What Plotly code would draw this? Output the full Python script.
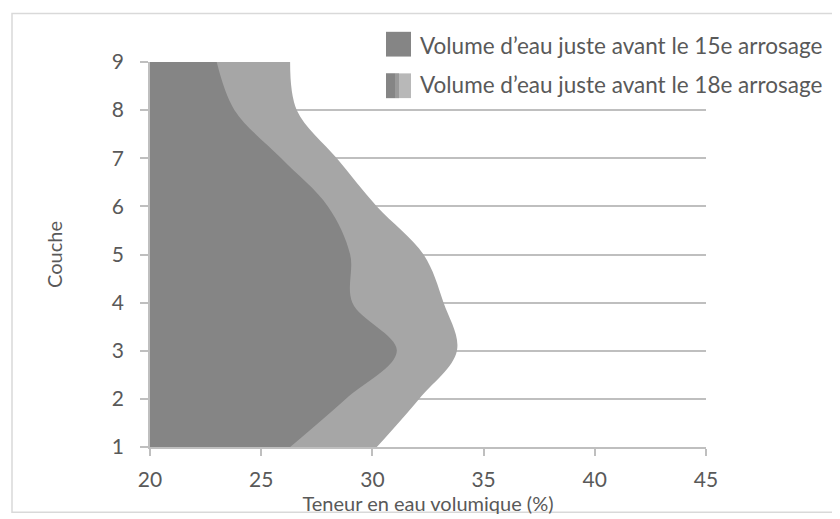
import plotly.graph_objects as go

couche = [1, 2, 3, 4, 5, 6, 7, 8, 9]
teneur_15e = [26.3, 28.8, 31.1, 29.1, 29.0, 28.0, 25.9, 23.8, 23.0]
teneur_18e = [30.2, 32.1, 33.8, 33.2, 32.3, 30.2, 28.4, 26.6, 26.3]
x_ticks = [20, 25, 30, 35, 40, 45]
y_ticks = [1, 2, 3, 4, 5, 6, 7, 8, 9]
name_15e = "Volume d\u2019eau juste avant le 15e arrosage"
name_18e = "Volume d\u2019eau juste avant le 18e arrosage"

DARK = "#858585"
LIGHT = "#a6a6a6"
TEXT = "#595959"
FONT = "Lato, 'Open Sans', sans-serif"

fig = go.Figure()
fig.add_trace(go.Scatter(x=teneur_18e, y=couche, mode="lines", name=name_18e,
                         line=dict(shape="spline", smoothing=1.0, width=0, color=LIGHT),
                         fill="tozerox", fillcolor=LIGHT, showlegend=False, hoverinfo="x+y"))
fig.add_trace(go.Scatter(x=teneur_15e, y=couche, mode="lines", name=name_15e,
                         line=dict(shape="spline", smoothing=1.0, width=0, color=DARK),
                         fill="tozerox", fillcolor=DARK, showlegend=False, hoverinfo="x+y"))

# page has an 8px body margin: figure is 832x511 placed at (8, 8)
W, H = 832, 511
L, R, T, B = 142, 134, 54, 68
PL, PB = 150, 451          # plot area left / bottom in page pixels
pw, ph = W - L - R, H - T - B

def px(x):
    return (x - PL) / pw

def py(y):
    return (PB - y) / ph

shapes = [
    dict(type="rect", xref="paper", yref="paper", x0=px(12), x1=px(860), y0=py(13), y1=py(517),
         line=dict(color="#d9d9d9", width=1.5), fillcolor="rgba(0,0,0,0)", layer="below"),
]
s = 25
for cy, kind in [(44, "dark"), (86, "light")]:
    x0 = 386
    y0, y1 = py(cy + s / 2), py(cy - s / 2)
    if kind == "dark":
        shapes.append(dict(type="rect", xref="paper", yref="paper", x0=px(x0), x1=px(x0 + s),
                           y0=y0, y1=y1, line=dict(width=0), fillcolor=DARK))
    else:
        shapes.append(dict(type="rect", xref="paper", yref="paper", x0=px(x0), x1=px(x0 + s),
                           y0=y0, y1=y1, line=dict(width=0), fillcolor="#b8b8b8"))
        shapes.append(dict(type="rect", xref="paper", yref="paper", x0=px(x0), x1=px(x0 + 9),
                           y0=y0, y1=y1, line=dict(width=0), fillcolor=DARK))
        shapes.append(dict(type="rect", xref="paper", yref="paper", x0=px(x0 + 9), x1=px(x0 + 13),
                           y0=y0, y1=y1, line=dict(width=0), fillcolor="#9a9a9a"))

annotations = [
    dict(text=name_15e, xref="paper", yref="paper", x=px(418), y=py(45), xanchor="left", yanchor="middle",
         showarrow=False, font=dict(family=FONT, size=22.5, color=TEXT)),
    dict(text=name_18e, xref="paper", yref="paper", x=px(418), y=py(85), xanchor="left", yanchor="middle",
         showarrow=False, font=dict(family=FONT, size=22.5, color=TEXT)),
]

fig.update_layout(
    width=W, height=H,
    margin=dict(l=L, r=R, t=T, b=B, pad=0),
    paper_bgcolor="white", plot_bgcolor="white",
    font=dict(family=FONT, size=20, color=TEXT),
    shapes=shapes, annotations=annotations, showlegend=False,
    xaxis=dict(range=[20, 45], tickvals=x_ticks, showgrid=False, zeroline=False,
               showline=True, linecolor="#bfbfbf", linewidth=1.5,
               ticks="outside", ticklen=7, tickcolor="#bfbfbf", tickwidth=1.5,
               tickfont=dict(size=21, color=TEXT), ticklabelstandoff=6,
               title=dict(text="Teneur en eau volumique (%)", font=dict(size=20, color=TEXT), standoff=2)),
    yaxis=dict(range=[1, 9], tickvals=y_ticks, showgrid=True, gridcolor="#bfbfbf", gridwidth=1.5,
               zeroline=False, showline=True, linecolor="#bfbfbf", linewidth=1.5,
               ticks="outside", ticklen=8, tickcolor="#bfbfbf", tickwidth=1.5,
               tickfont=dict(size=21, color=TEXT), ticklabelstandoff=12,
               title=dict(text="Couche", font=dict(size=20, color=TEXT), standoff=44)),
)

fig.write_html("out.html")
